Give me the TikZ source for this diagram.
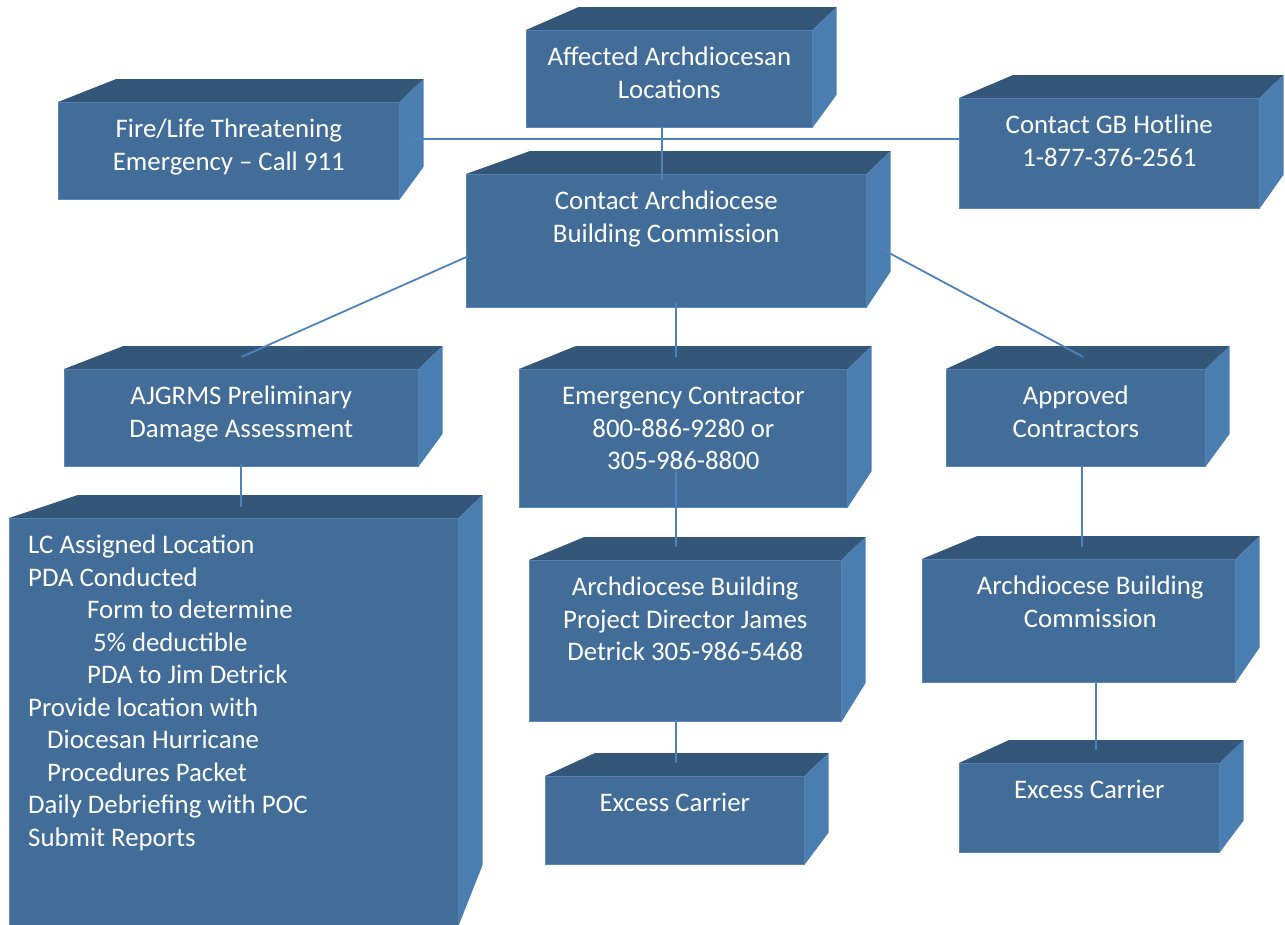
\documentclass[tikz,border=0pt]{standalone}
\usepackage{fontspec}
\setmainfont{Carlito}
\usetikzlibrary{calc,positioning}

\definecolor{slabfront}{HTML}{436D99}
\definecolor{slabtop}{HTML}{335679}
\definecolor{slabside}{HTML}{4A7EB1}
\definecolor{slabedge}{HTML}{5A86BA}
\definecolor{linkblue}{HTML}{4F81BD}

% 3D box: [text shift] name, top left corner, width, height, text
\newcommand{\slab}[6][0pt]{
	\node [front, minimum width=#4, minimum height=#5] (#2) at (#3) {};
	\fill [fill=slabtop] let \p1=(#2.north west), \p2=(#2.north east), \n1={24+0.1*(\x2-\x1)} in
		(\p1) -- (\x1+\n1*1pt,\y1+23pt) -- (\x2+24pt,\y2+23pt) -- (\p2) -- cycle;
	\fill [fill=slabside] let \p1=(#2.north east), \p2=(#2.south east), \n2={24+0.09*(\y1-\y2)} in
		(\p1) -- (\x1+24pt,\y1+23pt) -- (\x2+24pt,\y2+\n2*1pt) -- (\p2) -- cycle;
	\node [slabtext, anchor=north] (#2 text) at ([xshift=#1,yshift=-13pt]#2.north) {\strut #6};
}

\begin{document}
\begin{tikzpicture}[x=1pt, y=-1pt]
	\tikzstyle{front}=[rectangle, fill=slabfront, draw=slabedge, line width=0.6pt, inner sep=0pt, anchor=north west]
	\tikzstyle{slabtext}=[text=white, align=center, inner sep=0pt, font=\fontsize{26.8}{32.5}\selectfont]
	\tikzstyle{link}=[draw=linkblue, line width=1.8pt]
	\useasboundingbox (0,0) rectangle (1285,924);

	% top row
	\slab{fire}{58,102}{341pt}{97pt}{Fire/Life Threatening\\Emergency – Call 911}
	\slab{affected}{526,30}{286pt}{97pt}{Affected Archdiocesan\\Locations}
	\slab{gb}{959,98}{300pt}{110pt}{Contact GB Hotline\\1-877-376-2561}
	\slab{contact}{466,174}{400pt}{133pt}{Contact Archdiocese\\Building Commission}

	% second row
	\slab{ajgrms}{64,369}{354pt}{97pt}{AJGRMS Preliminary\\Damage Assessment}
	\slab{emergency}{519,369}{328pt}{138pt}{Emergency Contractor\\800-886-9280 or\\305-986-8800}
	\slab{approved}{946,369}{259pt}{97pt}{Approved\\Contractors}

	% lower boxes
	\slab{lc}{9,518}{449pt}{407pt}{}
	\node [slabtext, align=left, anchor=north west] (lc list) at ([xshift=19pt,yshift=-13pt]lc.north west) {\strut LC Assigned Location\\
		PDA Conducted\\
		\hspace*{59pt}Form to determine\\
		\hspace*{65pt}5\% deductible\\
		\hspace*{59pt}PDA to Jim Detrick\\
		Provide location with\\
		\hspace*{19pt}Diocesan Hurricane\\
		\hspace*{19pt}Procedures Packet\\
		Daily Debriefing with POC\\
		Submit Reports};
	\slab{director}{529,560}{312pt}{161pt}{Archdiocese Building\\Project Director James\\Detrick 305-986-5468}
	\slab[11.5pt]{commission}{922,559}{313pt}{123pt}{Archdiocese Building\\Commission}
	\slab{excessa}{545,776}{259pt}{88pt}{Excess Carrier}
	\slab{excessb}{959,763}{260pt}{89pt}{Excess Carrier}

	% connectors
	\draw [link] ([xshift=-7pt,yshift=2pt]affected.south) -- ([xshift=-4pt,yshift=-6pt]contact.north);
	\draw [link] ([xshift=13pt,yshift=11.5pt]fire.east) -- ([yshift=14pt]gb.west);
	\draw [link] ([xshift=2pt,yshift=-15.5pt]contact.west) -- ([yshift=12pt]ajgrms.north);
	\draw [link] ([xshift=10pt,yshift=5pt]contact.south) -- ([xshift=-7pt,yshift=12pt]emergency.north);
	\draw [link] ([xshift=12pt,yshift=-6.5pt]contact.east) -- ([xshift=7.5pt,yshift=12pt]approved.north);
	\draw [link] ([yshift=3pt]ajgrms.south) -- ([xshift=7.5pt,yshift=11pt]lc.north);
	\draw [link] ([xshift=-7pt,yshift=37pt]emergency.south) -- ([xshift=-9pt,yshift=13pt]director.north);
	\draw [link] ([xshift=-9pt,yshift=2pt]director.south) -- ([xshift=1.5pt,yshift=13pt]excessa.north);
	\draw [link] ([xshift=6.5pt,yshift=2pt]approved.south) -- ([xshift=3.5pt,yshift=12pt]commission.north);
	\draw [link] ([xshift=17.5pt]commission.south) -- ([xshift=7pt,yshift=13pt]excessb.north);
\end{tikzpicture}
\end{document}
